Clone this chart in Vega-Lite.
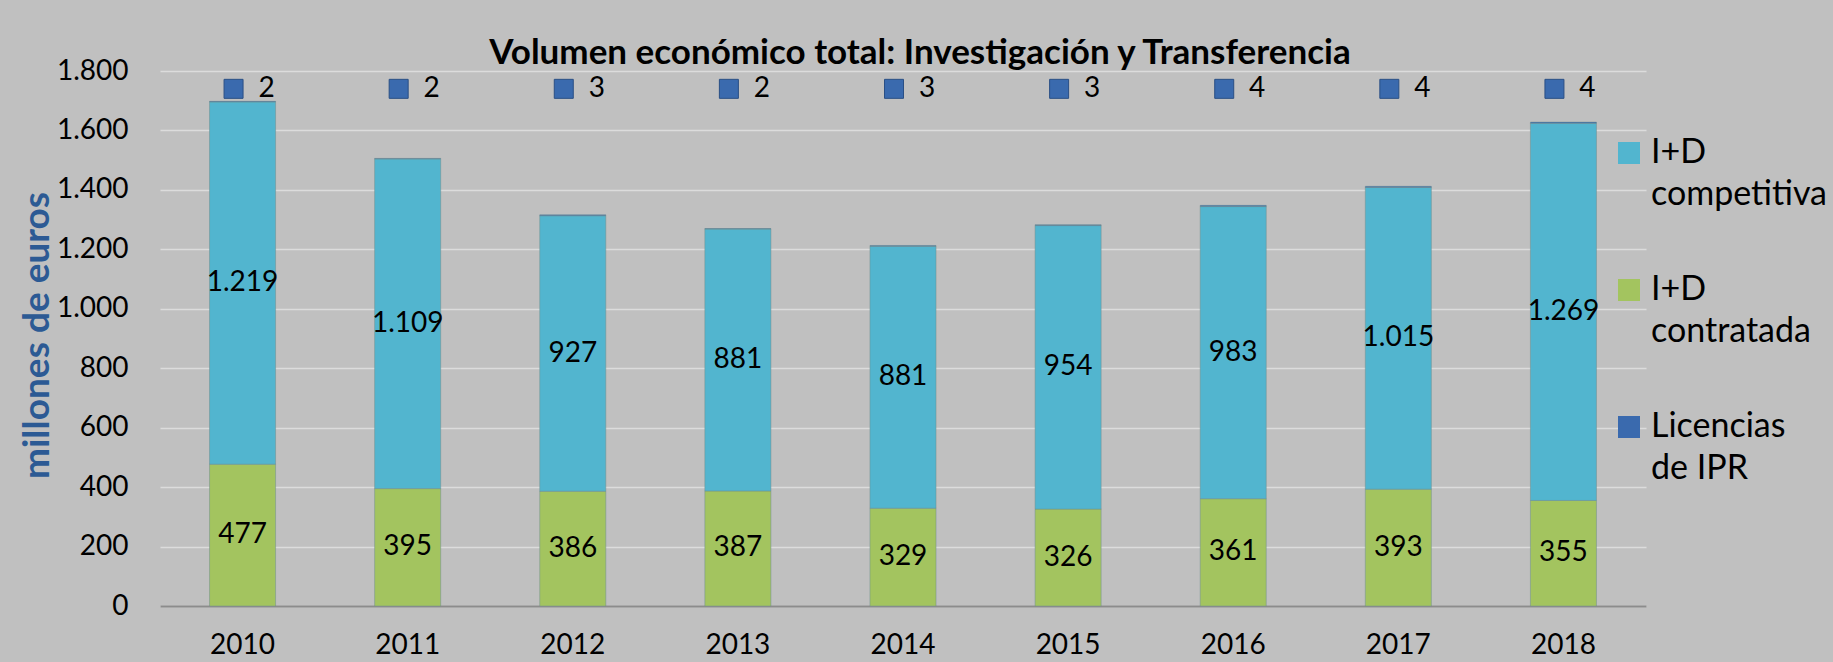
{
  "$schema": "https://vega.github.io/schema/vega-lite/v6.json",
  "width": 1486,
  "height": 535,
  "autosize": {"type": "none"},
  "padding": {"left": 160, "top": 71, "right": 187, "bottom": 56},
  "background": "#c0c0c0",
  "config": {
    "locale": {"number": {"decimal": ",", "thousands": ".", "grouping": [3], "currency": ["", " €"]}},
    "view": {"stroke": null},
    "font": "Lato",
    "style": {"guide-label": {"lineHeight": 42}}
  },
  "title": {
    "text": "Volumen económico total: Investigación y Transferencia",
    "font": "Lato",
    "fontSize": 35,
    "fontWeight": "bold",
    "color": "#000000",
    "anchor": "middle",
    "baseline": "alphabetic",
    "offset": 6,
    "dx": 17,
    "dy": 48
  },
  "data": {
    "values": [
      {"year": "2010", "serie": "I+D contratada", "ord": 1, "valor": 477},
      {"year": "2010", "serie": "I+D competitiva", "ord": 2, "valor": 1219},
      {"year": "2010", "serie": "Licencias de IPR", "ord": 3, "valor": 2},
      {"year": "2011", "serie": "I+D contratada", "ord": 1, "valor": 395},
      {"year": "2011", "serie": "I+D competitiva", "ord": 2, "valor": 1109},
      {"year": "2011", "serie": "Licencias de IPR", "ord": 3, "valor": 2},
      {"year": "2012", "serie": "I+D contratada", "ord": 1, "valor": 386},
      {"year": "2012", "serie": "I+D competitiva", "ord": 2, "valor": 927},
      {"year": "2012", "serie": "Licencias de IPR", "ord": 3, "valor": 3},
      {"year": "2013", "serie": "I+D contratada", "ord": 1, "valor": 387},
      {"year": "2013", "serie": "I+D competitiva", "ord": 2, "valor": 881},
      {"year": "2013", "serie": "Licencias de IPR", "ord": 3, "valor": 2},
      {"year": "2014", "serie": "I+D contratada", "ord": 1, "valor": 329},
      {"year": "2014", "serie": "I+D competitiva", "ord": 2, "valor": 881},
      {"year": "2014", "serie": "Licencias de IPR", "ord": 3, "valor": 3},
      {"year": "2015", "serie": "I+D contratada", "ord": 1, "valor": 326},
      {"year": "2015", "serie": "I+D competitiva", "ord": 2, "valor": 954},
      {"year": "2015", "serie": "Licencias de IPR", "ord": 3, "valor": 3},
      {"year": "2016", "serie": "I+D contratada", "ord": 1, "valor": 361},
      {"year": "2016", "serie": "I+D competitiva", "ord": 2, "valor": 983},
      {"year": "2016", "serie": "Licencias de IPR", "ord": 3, "valor": 4},
      {"year": "2017", "serie": "I+D contratada", "ord": 1, "valor": 393},
      {"year": "2017", "serie": "I+D competitiva", "ord": 2, "valor": 1015},
      {"year": "2017", "serie": "Licencias de IPR", "ord": 3, "valor": 4},
      {"year": "2018", "serie": "I+D contratada", "ord": 1, "valor": 355},
      {"year": "2018", "serie": "I+D competitiva", "ord": 2, "valor": 1269},
      {"year": "2018", "serie": "Licencias de IPR", "ord": 3, "valor": 4}
    ]
  },
  "encoding": {
    "x": {
      "field": "year",
      "type": "ordinal",
      "scale": {"paddingInner": 0.6, "paddingOuter": 0.3},
      "axis": {
        "title": null,
        "labelAngle": 0,
        "labelFont": "Lato",
        "labelFontSize": 28,
        "labelColor": "#000000",
        "labelPadding": 25,
        "ticks": false,
        "domainColor": "#8c8c8c",
        "domainWidth": 2,
        "grid": false
      }
    }
  },
  "layer": [
    {
      "mark": {"type": "bar", "stroke": "#6f8f8f", "strokeWidth": 1, "strokeOpacity": 0.5},
      "encoding": {
        "y": {
          "field": "valor",
          "type": "quantitative",
          "stack": "zero",
          "scale": {"domain": [0, 1800], "nice": false},
          "axis": {
            "title": "millones de euros",
            "titleFont": "Lato",
            "titleFontSize": 37,
            "titleFontWeight": "bold",
            "titleColor": "#2c5a94",
            "titleX": -123,
            "titleY": 264,
            "titleBaseline": "middle",
            "values": [0, 200, 400, 600, 800, 1000, 1200, 1400, 1600, 1800],
            "format": ",d",
            "labelFont": "Lato",
            "labelFontSize": 28,
            "labelColor": "#000000",
            "labelPadding": 32,
            "ticks": false,
            "domain": false,
            "gridColor": "#dcdcdc",
            "gridWidth": 1.5
          }
        },
        "order": {"field": "ord", "type": "quantitative"},
        "color": {
          "field": "serie",
          "type": "nominal",
          "scale": {
            "domain": ["I+D competitiva", "I+D contratada", "Licencias de IPR"],
            "range": ["#52b5cf", "#a3c45f", "#3a6aae"]
          },
          "legend": {
            "title": null,
            "orient": "none",
            "legendX": 1452,
            "legendY": 65,
            "padding": 0,
            "symbolType": "square",
            "symbolSize": 484,
            "symbolStrokeWidth": 0,
            "labelFont": "Lato",
            "labelFontSize": 34,
            "labelColor": "#000000",
            "labelOffset": 5,
            "labelBaseline": "middle",
            "labelLimit": 400,
            "rowPadding": 61,
            "labelExpr": "datum.label == 'Licencias de IPR' ? ['Licencias', 'de IPR'] : ['I+D', replace(datum.label, 'I+D ', '')]",
            "encode": {"labels": {"update": {"lineHeight": {"value": 42}}}}
          }
        }
      }
    },
    {
      "transform": [{"filter": "datum.serie != 'Licencias de IPR'"}],
      "mark": {"type": "text", "font": "Lato", "fontSize": 28, "color": "#000000", "baseline": "middle"},
      "encoding": {
        "y": {"field": "valor", "type": "quantitative", "stack": "zero", "bandPosition": 0.5},
        "order": {"field": "ord", "type": "quantitative"},
        "text": {"field": "valor", "type": "quantitative", "format": ",d"}
      }
    },
    {
      "transform": [{"filter": "datum.serie == 'Licencias de IPR'"}],
      "mark": {"type": "point", "shape": "square", "size": 361, "filled": true, "color": "#3a6aae", "stroke": "#2a4f85", "strokeWidth": 1, "opacity": 1, "xOffset": -9},
      "encoding": {
        "y": {"datum": 1740}
      }
    },
    {
      "transform": [{"filter": "datum.serie == 'Licencias de IPR'"}],
      "mark": {"type": "text", "font": "Lato", "fontSize": 28, "color": "#000000", "baseline": "middle", "dx": 24},
      "encoding": {
        "y": {"datum": 1740},
        "text": {"field": "valor", "type": "quantitative", "format": ",d"}
      }
    }
  ]
}
